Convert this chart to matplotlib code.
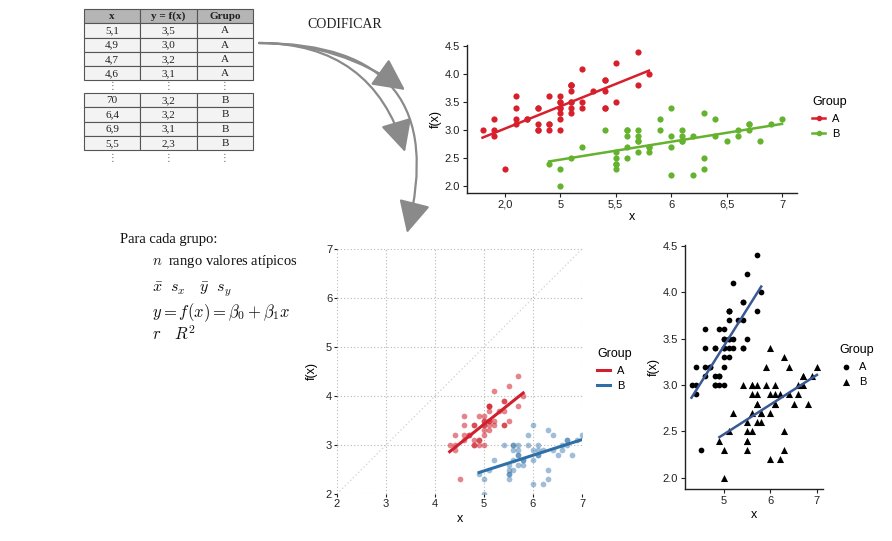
import numpy as np
import matplotlib.pyplot as plt
from matplotlib.lines import Line2D
from matplotlib.patches import Rectangle

plt.rcParams['font.family'] = ['Liberation Sans', 'DejaVu Sans']
plt.rcParams['mathtext.fontset'] = 'cm'

# data (two groups)
x_a = [5.1, 4.9, 4.7, 4.6, 5.0, 5.4, 4.6, 5.0, 4.4, 4.9, 5.4, 4.8, 4.8, 4.3, 5.8, 5.7, 5.4,
       5.1, 5.7, 5.1, 5.4, 5.1, 4.6, 5.1, 4.8, 5.0, 5.0, 5.2, 5.2, 4.7, 4.8, 5.4, 5.2, 5.5,
       4.9, 5.0, 5.5, 4.9, 4.4, 5.1, 5.0, 4.5, 4.4, 5.0, 5.1, 4.8, 5.1, 4.6, 5.3, 5.0]
y_a = [3.5, 3.0, 3.2, 3.1, 3.6, 3.9, 3.4, 3.4, 2.9, 3.1, 3.7, 3.4, 3.0, 3.0, 4.0, 4.4, 3.9,
       3.5, 3.8, 3.8, 3.4, 3.7, 3.6, 3.3, 3.4, 3.0, 3.4, 3.5, 3.4, 3.2, 3.1, 3.4, 4.1, 4.2,
       3.1, 3.2, 3.5, 3.6, 3.0, 3.4, 3.5, 2.3, 3.2, 3.5, 3.8, 3.0, 3.8, 3.2, 3.7, 3.3]
x_b = [7.0, 6.4, 6.9, 5.5, 6.5, 5.7, 6.3, 4.9, 6.6, 5.2, 5.0, 5.9, 6.0, 6.1, 5.6, 6.7, 5.6,
       5.8, 6.2, 5.6, 5.9, 6.1, 6.3, 6.1, 6.4, 6.6, 6.8, 6.7, 6.0, 5.7, 5.5, 5.5, 5.8, 6.0,
       5.4, 6.0, 6.7, 6.3, 5.6, 5.5, 5.5, 6.1, 5.8, 5.0, 5.6, 5.7, 5.7, 6.2, 5.1, 5.7]
y_b = [3.2, 3.2, 3.1, 2.3, 2.8, 2.8, 3.3, 2.4, 2.9, 2.7, 2.0, 3.0, 2.2, 2.9, 2.9, 3.1, 3.0,
       2.7, 2.2, 2.5, 3.2, 2.8, 2.5, 2.8, 2.9, 3.0, 2.8, 3.0, 2.9, 2.6, 2.4, 2.4, 2.7, 2.7,
       3.0, 3.4, 3.1, 2.3, 3.0, 2.5, 2.6, 3.0, 2.6, 2.3, 2.7, 3.0, 2.9, 2.9, 2.5, 2.8]

# table shown top-left
table_header = ['x', 'y = f(x)', 'Grupo']
table_a = [['5,1', '3,5', 'A'], ['4,9', '3,0', 'A'], ['4,7', '3,2', 'A'], ['4,6', '3,1', 'A']]
table_b = [['70', '3,2', 'B'], ['6,4', '3,2', 'B'], ['6,9', '3,1', 'B'], ['5,5', '2,3', 'B']]

top_xticks = [4.5, 5, 5.5, 6, 6.5, 7]
top_xlabels = ['2,0', '5', '5,5', '6', '6,5', '7']
y_ticks = [2.0, 2.5, 3.0, 3.5, 4.0, 4.5]

W, H = 892, 541
fig = plt.figure(figsize=(W / 100, H / 100), dpi=100)


def box(l, t, r, b):
    return [l / W, 1 - b / H, (r - l) / W, (b - t) / H]


def fit_line(x, y):
    b1, b0 = np.polyfit(x, y, 1)
    xs = np.array([min(x), max(x)])
    return xs, b0 + b1 * xs


# overlay for table, text and arrows (pixel coords)
ov = fig.add_axes([0, 0, 1, 1])
ov.set_xlim(0, W)
ov.set_ylim(H, 0)
ov.axis('off')

col_edges = [84, 140, 197, 253]
row_h = 14.3
serif = ['Liberation Serif', 'DejaVu Serif']


def draw_row(top, cells, fill, weight='normal'):
    for j, txt in enumerate(cells):
        ov.add_patch(Rectangle((col_edges[j], top), col_edges[j + 1] - col_edges[j], row_h,
                               facecolor=fill, edgecolor='#555555', lw=0.8))
        ov.text((col_edges[j] + col_edges[j + 1]) / 2, top + row_h / 2 + 0.5, txt,
                ha='center', va='center', fontsize=8, family=serif, color='#222222',
                weight=weight)


draw_row(9, table_header, '#b5b5b5', 'bold')
for i, r in enumerate(table_a):
    draw_row(9 + row_h * (i + 1), r, '#f3f3f3')
for i, r in enumerate(table_b):
    draw_row(93 + row_h * i, r, '#f3f3f3')
for yy in [86, 158]:
    for j in range(3):
        ov.text((col_edges[j] + col_edges[j + 1]) / 2, yy, '⋮', ha='center', va='center',
                fontsize=7, family=['DejaVu Sans'], color='#666666')

ov.text(345, 24, 'CODIFICAR', ha='center', va='center', fontsize=10, family=serif,
        color='#222222')

start = (259, 43)
for end in [(405, 90), (405, 152), (407, 233)]:
    dx = end[0] - start[0]
    dy = -(end[1] - start[1])
    ov.annotate('', xy=end, xytext=start,
                arrowprops=dict(arrowstyle='-|>,head_length=0.9,head_width=0.45',
                                connectionstyle='arc3,rad=%.3f' % (dy / (2 * dx)),
                                color='#8a8a8a', lw=1.6, mutation_scale=22,
                                shrinkA=0, shrinkB=0))

ov.text(120, 239, 'Para cada grupo:', ha='left', va='center', fontsize=10.5, family=serif,
        color='#111111')
ov.text(152, 262, r'$n$  rango valores atípicos', ha='left', va='center', fontsize=10.5,
        family=serif, color='#111111')
ov.text(152, 290, r'$\bar{x}\ \ s_x\ \ \ \bar{y}\ \ s_y$', ha='left', va='center',
        fontsize=11.5, color='#111111')
ov.text(152, 313, r'$y = f(x) = \beta_0 + \beta_1 x$', ha='left', va='center',
        fontsize=12, color='#111111')
ov.text(152, 334, r'$r\ \ \ R^2$', ha='left', va='center', fontsize=12, color='#111111')


def style_l(ax):
    for s in ['top', 'right']:
        ax.spines[s].set_visible(False)
    for s in ['left', 'bottom']:
        ax.spines[s].set_linewidth(1.0)
        ax.spines[s].set_color('#222222')
    ax.tick_params(labelsize=8, length=3, width=0.8, colors='#222222', pad=2)


def legend(ax, handles, labels, x, y):
    lg = ax.legend(handles, labels, title='Group', loc='upper left', frameon=False,
                   bbox_to_anchor=(x / W, 1 - y / H), bbox_transform=fig.transFigure,
                   borderpad=0, borderaxespad=0, fontsize=8, title_fontsize=9,
                   handlelength=1.2, handletextpad=0.6, labelspacing=0.5,
                   alignment='left')
    return lg


# top plot: coloured groups
red, green = '#d7202c', '#64b22e'
ax1 = fig.add_axes(box(467, 45, 797, 193))
ax1.scatter(x_a, y_a, s=20, color=red, zorder=3, linewidths=0)
ax1.scatter(x_b, y_b, s=20, color=green, zorder=3, linewidths=0)
ax1.plot(*fit_line(x_a, y_a), color=red, lw=1.8, zorder=4)
ax1.plot(*fit_line(x_b, y_b), color=green, lw=1.8, zorder=4)
ax1.set_xlim(4.16, 7.135)
ax1.set_ylim(1.875, 4.52)
ax1.set_xticks(top_xticks)
ax1.set_xticklabels(top_xlabels)
ax1.set_yticks(y_ticks)
style_l(ax1)
ax1.set_xlabel('x', fontsize=9, labelpad=1)
ax1.set_ylabel('f(x)', fontsize=9, labelpad=2)
legend(ax1, [Line2D([], [], color=red, lw=1.8, marker='o', ms=3),
             Line2D([], [], color=green, lw=1.8, marker='o', ms=3)], ['A', 'B'], 812, 96)

# middle plot: dotted grid, identity line
red2, blue2 = '#d0202d', '#2e6fa7'
ax2 = fig.add_axes(box(337, 249, 582, 494))
ax2.scatter(x_a, y_a, s=17, color=red2, alpha=0.55, linewidths=0, zorder=3)
ax2.scatter(x_b, y_b, s=17, color=blue2, alpha=0.45, linewidths=0, zorder=3)
la, = ax2.plot(*fit_line(x_a, y_a), color=red2, lw=2.2, zorder=4)
lb, = ax2.plot(*fit_line(x_b, y_b), color=blue2, lw=2.2, zorder=4)
ax2.axline((2, 2), slope=1, color='#cfcfcf', lw=0.9, ls=(0, (1, 2)), zorder=1)
ax2.set_xlim(2, 7)
ax2.set_ylim(2, 7)
ax2.set_xticks(range(2, 8))
ax2.set_yticks(range(2, 8))
ax2.grid(True, color='#b8b8b8', lw=0.8, ls=(0, (1, 2)))
for s in ax2.spines.values():
    s.set_visible(False)
ax2.tick_params(labelsize=8, length=2.5, width=0.8, colors='#222222', pad=1)
ax2.set_xlabel('x', fontsize=9, labelpad=3)
ax2.set_ylabel('f(x)', fontsize=9, labelpad=6)
legend(ax2, [la, lb], ['A', 'B'], 597, 348)

# right plot: shapes by group
navy = '#3a5894'
ax3 = fig.add_axes(box(685, 245, 823, 489))
pa = ax3.scatter(x_a, y_a, s=17, color='black', marker='o', linewidths=0, zorder=3)
pb = ax3.scatter(x_b, y_b, s=26, color='black', marker='^', linewidths=0, zorder=3)
ax3.plot(*fit_line(x_a, y_a), color=navy, lw=1.8, zorder=4)
ax3.plot(*fit_line(x_b, y_b), color=navy, lw=1.8, zorder=4)
ax3.set_xlim(4.16, 7.13)
ax3.set_ylim(1.88, 4.51)
ax3.set_xticks([5, 6, 7])
ax3.set_yticks(y_ticks)
style_l(ax3)
ax3.set_xlabel('x', fontsize=9, labelpad=2)
ax3.set_ylabel('f(x)', fontsize=9, labelpad=2)
legend(ax3, [pa, pb], ['A', 'B'], 839, 344)

fig.savefig('out.png', dpi=100)
